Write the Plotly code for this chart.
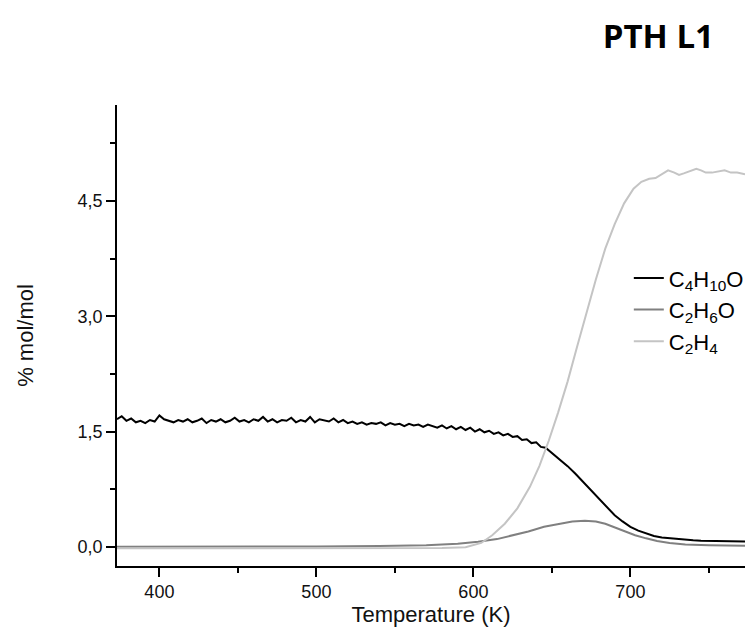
import plotly.graph_objects as go

# --- data ---
butanol_T = [373, 376, 379, 382, 385, 388, 391, 394, 397, 400, 403, 406, 409, 412, 415,
             418, 421, 424, 427, 430, 433, 436, 439, 442, 445, 448, 451, 454, 457, 460,
             463, 466, 469, 472, 475, 478, 481, 484, 487, 490, 493, 496, 499, 502, 505,
             508, 511, 514, 517, 520, 523, 526, 529, 532, 535, 538, 541, 544, 547, 550,
             553, 556, 559, 562, 565, 568, 571, 574, 577, 580, 583, 586, 589, 592, 595,
             598, 601, 604, 607, 610, 613, 616, 619, 622, 625, 628, 631, 634, 637, 640,
             643, 646, 650, 655, 660, 665, 670, 675, 680, 685, 690, 695, 700, 705, 710,
             715, 720, 725, 730, 735, 740, 745, 750, 755, 760, 765, 773]
butanol = [1.66, 1.70, 1.64, 1.67, 1.62, 1.64, 1.61, 1.65, 1.63, 1.71, 1.66, 1.64, 1.62, 1.65, 1.63,
           1.66, 1.62, 1.64, 1.67, 1.61, 1.65, 1.63, 1.66, 1.62, 1.64, 1.68, 1.63, 1.65, 1.62, 1.66,
           1.64, 1.69, 1.63, 1.66, 1.62, 1.65, 1.64, 1.68, 1.62, 1.65, 1.63, 1.69, 1.62, 1.66, 1.64,
           1.63, 1.67, 1.62, 1.65, 1.61, 1.63, 1.60, 1.62, 1.59, 1.61, 1.60, 1.62, 1.58, 1.61, 1.59,
           1.60, 1.57, 1.60, 1.58, 1.59, 1.56, 1.59, 1.57, 1.55, 1.58, 1.54, 1.57, 1.53, 1.56, 1.52,
           1.55, 1.50, 1.53, 1.49, 1.51, 1.47, 1.49, 1.45, 1.47, 1.43, 1.44, 1.39, 1.40, 1.35, 1.36,
           1.30, 1.29, 1.22, 1.14, 1.05, 0.95, 0.84, 0.73, 0.62, 0.51, 0.41, 0.33, 0.26, 0.21, 0.17,
           0.14, 0.12, 0.11, 0.10, 0.09, 0.085, 0.08, 0.078, 0.075, 0.072, 0.07, 0.068]

ethanol_T = [373, 400, 450, 500, 540, 570, 590, 603, 615, 625, 635, 645, 655, 663, 671,
             678, 684, 690, 697, 703, 710, 717, 725, 735, 750, 773]
ethanol = [0.0, 0.0, 0.0, 0.005, 0.01, 0.02, 0.04, 0.065, 0.10, 0.15, 0.20, 0.26, 0.30, 0.33, 0.34,
           0.33, 0.30, 0.25, 0.20, 0.15, 0.11, 0.075, 0.05, 0.03, 0.02, 0.013]

ethylene_T = [373, 450, 550, 580, 595, 605, 612, 620, 628, 636, 642, 648, 654, 660, 666,
              672, 678, 684, 690, 696, 702, 707, 712, 716, 720, 724, 728, 731, 734, 738,
              742, 745, 748, 752, 756, 760, 764, 768, 773]
ethylene = [-0.02, -0.02, -0.02, -0.015, -0.005, 0.05, 0.15, 0.30, 0.50, 0.78, 1.05, 1.38, 1.75, 2.15, 2.60,
            3.05, 3.48, 3.88, 4.20, 4.47, 4.66, 4.75, 4.79, 4.80, 4.85, 4.90, 4.87, 4.84, 4.86, 4.89,
            4.92, 4.90, 4.87, 4.87, 4.89, 4.90, 4.87, 4.87, 4.85]

fig = go.Figure()

fig.add_trace(go.Scatter(x=butanol_T, y=butanol, mode="lines",
                         name="C<sub>4</sub>H<sub>10</sub>O", legendgroup="a",
                         line=dict(color="#000000", width=2)))
fig.add_trace(go.Scatter(x=ethanol_T, y=ethanol, mode="lines",
                         name="C<sub>2</sub>H<sub>6</sub>O", legendgroup="b",
                         line=dict(color="#808080", width=2)))
fig.add_trace(go.Scatter(x=ethylene_T, y=ethylene, mode="lines",
                         name="C<sub>2</sub>H<sub>4</sub>", legendgroup="c",
                         line=dict(color="#c4c4c4", width=2)))

FAMILY = "Liberation Sans, Arial, sans-serif"
tick_font = dict(family=FAMILY, size=18, color="#111111")
label_font = dict(family=FAMILY, size=22, color="#111111")

fig.update_layout(
    width=755,
    height=632,
    margin=dict(l=109, r=18, t=97, b=74),
    paper_bgcolor="white",
    plot_bgcolor="white",
    separators=",.",
    font=tick_font,
    title=dict(text="<b>PTH L1</b>", x=0.935, xanchor="right", y=0.955, yanchor="middle",
               font=dict(family="Open Sans, Liberation Sans, sans-serif", size=33, color="#000000")),
    legend=dict(x=0.815, y=0.67, xanchor="left", yanchor="top",
                font=dict(family=FAMILY, size=22, color="#000000"),
                bgcolor="rgba(0,0,0,0)", tracegroupgap=0),
    showlegend=True,
)

fig.update_xaxes(
    range=[373, 773],
    tick0=400, dtick=100,
    tickfont=tick_font,
    ticks="outside", ticklen=9, tickwidth=1.5, tickcolor="#000000",
    minor=dict(dtick=50, tick0=400, ticks="outside", ticklen=5, tickwidth=1.5, tickcolor="#000000"),
    showline=True, linecolor="#000000", linewidth=1.5,
    showgrid=False, zeroline=False,
    title=dict(text="Temperature (K)", standoff=4, font=label_font),
)

fig.update_yaxes(
    range=[-0.25, 5.75],
    tick0=0, dtick=1.5, tickformat=".1f",
    tickfont=tick_font,
    ticks="outside", ticklen=9, tickwidth=1.5, tickcolor="#000000",
    minor=dict(dtick=0.75, tick0=0, ticks="outside", ticklen=5, tickwidth=1.5, tickcolor="#000000"),
    showline=True, linecolor="#000000", linewidth=1.5,
    showgrid=False, zeroline=False,
    title=dict(text="% mol/mol", standoff=38, font=label_font),
)

fig.write_html("out.html")
